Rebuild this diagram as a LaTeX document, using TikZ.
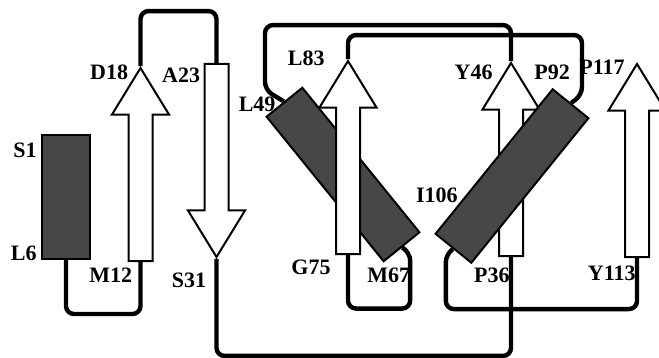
\documentclass[tikz,border=0pt]{standalone}
\usepackage{fontspec}
\setmainfont{Liberation Serif}
\usepackage{tikz}
\usetikzlibrary{positioning,shapes.arrows}

\begin{document}
\begin{tikzpicture}[x=0.5pt, y=-0.5pt, strand/.style = {single arrow, draw, fill=white, line width=1pt, inner xsep=0pt, inner ysep=5.5pt, minimum width=27.5pt, minimum height=96.5pt, single arrow head extend=8.25pt, single arrow tip angle=63, anchor=tail}, helix/.style = {rectangle, draw, fill=black!72, line width=1pt, inner sep=0pt, minimum width=93pt, minimum height=23pt}, loopline/.style = {line width=2.2pt, rounded corners=4pt}, lbl/.style = {inner sep=0pt, font=\bfseries\fontsize{11}{12}\selectfont}]

\useasboundingbox (0,0) rectangle (659,358);

\node[helix, minimum width=24pt, minimum height=62pt] (h1) at (66,197) {};
\node[strand, rotate=90] (b1) at (140.5,262) {};
\node[strand, rotate=-90] (b2) at (216.5,63) {};
\node[helix, rotate=-51] (h2) at (343,174.5) {};
\node[strand, rotate=90] (b4) at (348,255) {};
\node[strand, rotate=90] (b3) at (511,257) {};
\node[helix, rotate=51] (h3) at (512,176) {};
\node[strand, rotate=90] (b5) at (637,258) {};

\coordinate (t1) at (265,90);
\coordinate (t2) at (582,95);

\draw[loopline] (h1.south) -- ++(0,54) -| (b1.tail);
\draw[loopline] (b1.tip) -- ++(0,-55) -| (b2.tail);
\draw[loopline] (b2.tip) -- ++(0,97) -| (b3.tail);
\draw[loopline] (b3.tip) -- ++(0,-36) -| (t1) -- (h2.west);
\draw[loopline] (h2.east) -- ++(8,5) -- ++(0,56) -| (b4.tail);
\draw[loopline] (b4.tip) -- ++(0,-24) -| (t2) -- (h3.east);
\draw[loopline] (h3.west) -- ++(-7,5) -- ++(0,55) -| (b5.tail);

\node[lbl, left=2pt of h1.north west, yshift=-8pt] (lS1) {S1};
\node[lbl, left=2pt of h1.south west, yshift=3.5pt] (lL6) {L6};
\node[lbl, left=6pt of b1.tip, yshift=-3pt] (lD18) {D18};
\node[lbl, left=4pt of b1.tail, yshift=-6.5pt] (lM12) {M12};
\node[lbl, left=8pt of b2.tail, yshift=-6pt] (lA23) {A23};
\node[lbl, left=5pt of b2.tip, yshift=-10.5pt] (lS31) {S31};
\node[lbl, left=9pt of b3.tip, yshift=-5.5pt] (lY46) {Y46};
\node[lbl, left=0.5pt of b3.tail, yshift=-9pt] (lP36) {P36};
\node[lbl, left=4pt of h2.west, yshift=-1.5pt] (lL49) {L49};
\node[lbl, right=9.5pt of b4.tail, yshift=-10pt] (lM67) {M67};
\node[lbl, left=8.5pt of b4.tail, yshift=-6pt] (lG75) {G75};
\node[lbl, left=11.5pt of b4.tip, yshift=0.5pt] (lL83) {L83};
\node[lbl, right=11.5pt of b3.tip, yshift=-5.5pt] (lP92) {P92};
\node[lbl, left=27pt of h3.center, yshift=-9.5pt] (lI106) {I106};
\node[lbl, left=6pt of b5.tip, yshift=-2.75pt] (lP117) {P117};
\node[lbl, left=0.5pt of b5.tail, yshift=-7.5pt] (lY113) {Y113};
\end{tikzpicture}
\end{document}
